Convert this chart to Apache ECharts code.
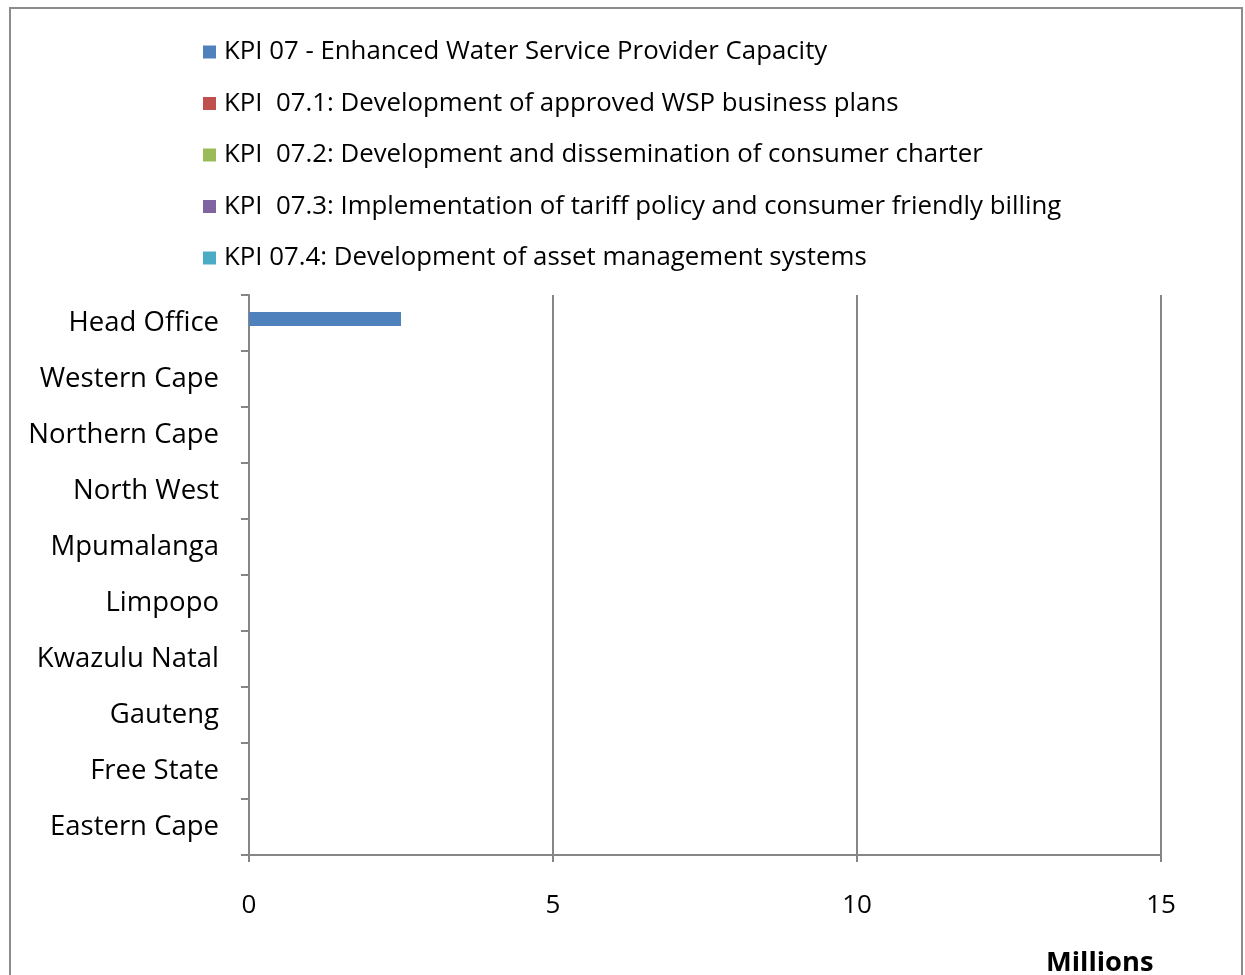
<!DOCTYPE html>
<html>
<head>
<meta charset="utf-8">
<script src="https://cdn.jsdelivr.net/npm/echarts@6/dist/echarts.min.js"></script>
<style>
  html, body { margin: 0; padding: 0; background: #fff; }
  #chart { width: 1245px; height: 975px; }
</style>
</head>
<body>
<div id="chart"></div>
<script>
// Regions, listed bottom-to-top as the axis draws them
const regions = ['Eastern Cape', 'Free State', 'Gauteng', 'Kwazulu Natal', 'Limpopo',
  'Mpumalanga', 'North West', 'Northern Cape', 'Western Cape', 'Head Office'];

const seriesNames = [
  'KPI 07 - Enhanced Water Service Provider Capacity',
  'KPI  07.1: Development of approved WSP business plans',
  'KPI  07.2: Development and dissemination of consumer charter',
  'KPI  07.3: Implementation of tariff policy and consumer friendly billing',
  'KPI 07.4: Development of asset management systems'
];

// Budget values in millions, one array per KPI, same order as regions
const kpi07   = [0, 0, 0, 0, 0, 0, 0, 0, 0, 2.5];
const kpi07_1 = [0, 0, 0, 0, 0, 0, 0, 0, 0, 0];
const kpi07_2 = [0, 0, 0, 0, 0, 0, 0, 0, 0, 0];
const kpi07_3 = [0, 0, 0, 0, 0, 0, 0, 0, 0, 0];
const kpi07_4 = [0, 0, 0, 0, 0, 0, 0, 0, 0, 0];

const xTicks = [0, 5, 10, 15];
const unitLabel = 'Millions';

const colors = ['#4f81bd', '#c0504d', '#9bbb59', '#8064a2', '#4bacc6'];
const seriesData = [kpi07, kpi07_1, kpi07_2, kpi07_3, kpi07_4];

const font = '"Open Sans", Lato, sans-serif';

const chart = echarts.init(document.getElementById('chart'), null, { renderer: 'canvas' });

chart.setOption({
  animation: false,
  color: colors,
  textStyle: { fontFamily: font },
  grid: { left: 249, right: 84, top: 295, bottom: 120, containLabel: false },
  legend: {
    orient: 'vertical',
    left: 198,
    top: 34,
    icon: 'rect',
    itemWidth: 13,
    itemHeight: 13,
    itemGap: 25.5,
    selectedMode: false,
    textStyle: { fontFamily: font, fontSize: 25.8, color: '#000', lineHeight: 26, padding: [0, 0, 0, 3] },
    data: seriesNames
  },
  xAxis: {
    type: 'value',
    min: xTicks[0],
    max: xTicks[xTicks.length - 1],
    interval: 5,
    axisLine: { show: true, lineStyle: { color: '#868686', width: 2 } },
    axisTick: { show: true, length: 7, lineStyle: { color: '#868686', width: 2 } },
    axisLabel: { fontFamily: font, fontSize: 26, color: '#000', margin: 38 },
    splitLine: { show: true, lineStyle: { color: '#868686', width: 2 } }
  },
  yAxis: {
    type: 'category',
    data: regions,
    axisLine: { show: true, lineStyle: { color: '#868686', width: 2 } },
    axisTick: { show: true, length: 8, lineStyle: { color: '#868686', width: 2 } },
    axisLabel: { fontFamily: font, fontSize: 27.5, color: '#000', margin: 30 },
    splitLine: { show: false }
  },
  graphic: [
    {
      type: 'rect',
      shape: { x: 10, y: 8, width: 1232, height: 1000 },
      style: { fill: 'none', stroke: '#8c8c8c', lineWidth: 2 },
      silent: true,
      z: -1
    },
    {
      type: 'text',
      left: 1046,
      top: 950,
      style: { text: unitLabel, fontFamily: font, fontSize: 27.3, fontWeight: 'bold', fill: '#000' }
    }
  ],
  series: seriesData.map((d, i) => ({
    name: seriesNames[i],
    type: 'bar',
    data: d,
    barWidth: 14,
    barGap: '-86%',
    itemStyle: { color: colors[i] }
  }))
});
</script>
</body>
</html>
